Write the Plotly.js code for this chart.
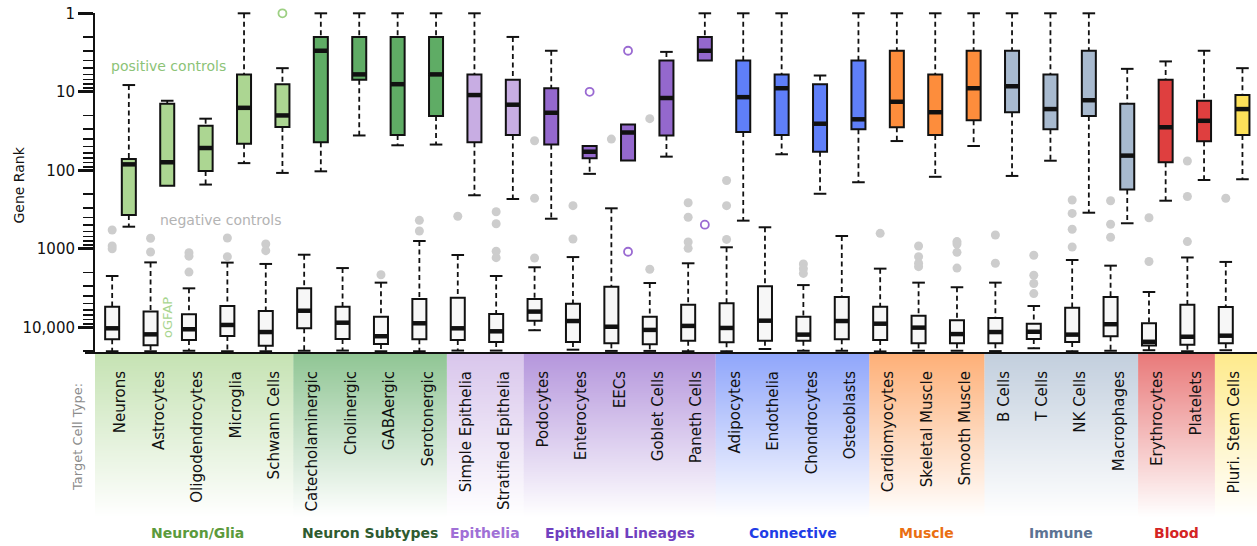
<!DOCTYPE html>
<html>
<head>
<meta charset="utf-8">
<script src="https://cdn.plot.ly/plotly-3.0.1.min.js"></script>
<style>
  html, body { margin: 0; padding: 0; background: #ffffff; }
  #chart { width: 1257px; height: 546px; }
</style>
</head>
<body>
<div id="chart"></div>
<script>
// ---- Target cell types and their groups ----
const cellTypes = [
  'Neurons', 'Astrocytes', 'Oligodendrocytes', 'Microglia', 'Schwann Cells',
  'Catecholaminergic', 'Cholinergic', 'GABAergic', 'Serotonergic',
  'Simple Epithelia', 'Stratified Epithelia',
  'Podocytes', 'Enterocytes', 'EECs', 'Goblet Cells', 'Paneth Cells',
  'Adipocytes', 'Endothelia', 'Chondrocytes', 'Osteoblasts',
  'Cardiomyocytes', 'Skeletal Muscle', 'Smooth Muscle',
  'B Cells', 'T Cells', 'NK Cells', 'Macrophages',
  'Erythrocytes', 'Platelets',
  'Pluri. Stem Cells'
];
const groupNames = ['Neuron/Glia', 'Neuron Subtypes', 'Epithelia', 'Epithelial Lineages',
                    'Connective', 'Muscle', 'Immune', 'Blood', ''];
const groupSizes = [5, 4, 2, 5, 4, 3, 4, 2, 1];
const groupBoxColors  = ['#acd692', '#5fac65', '#c8ade3', '#9468cd', '#5f7ff9',
                         '#fd8d3c', '#a8bacf', '#df3f3f', '#fde15a'];
const groupTextColors = ['#5b9a3c', '#2e5b30', '#a070d6', '#7040bf', '#1f3de6',
                         '#ea6f12', '#5c7393', '#d42424', '#c9a800'];
const groupOutlierColors = ['#9dd083', '#2e5b30', '#a070d6', '#9a6ad2', '#1f3de6',
                            '#ea6f12', '#5c7393', '#d42424', '#c9a800'];

// ---- Positive controls (gene rank) ----
const posWhiskerTop = [8.2, 13, 22, 1, 5, 1, 1, 1, 1, 1, 2, 3, 49, 26, 3.1, 1,
                       1, 1, 6.2, 1, 1, 1, 1, 1, 1, 1, 5.1, 4.1, 3, 5];
const posQ1  = [72, 14.2, 27, 6, 8, 2, 2, 2, 2, 6, 7, 9, 49, 26, 4, 2,
                4, 6, 8, 4, 3, 6, 3, 3, 6, 3, 14.2, 7, 13, 11];
const posMed = [84, 79, 52, 16, 20, 3, 6, 8, 6, 11, 14.6, 18.5, 58, 33, 12, 3,
                11.7, 9, 25.5, 22.4, 13.4, 18.2, 9, 8.5, 16.6, 12.8, 65, 28.3, 23.4, 16.6];
const posQ3  = [371, 157, 102, 46, 28, 44, 7, 35.5, 20.3, 44, 35.5, 47, 70, 75, 36, 4,
                32.5, 35.5, 58, 30, 28.3, 35.5, 23, 18.2, 30, 20.3, 175, 79, 42.7, 35.5];
const posWhiskerBottom = [523, 157, 152, 81, 108, 103, 36, 48, 47, 208, 232, 414, 111, 75, 67, 4,
                          438, 62.5, 199, 142, 42.4, 121, 49, 118, 75.5, 347, 473, 244, 133, 130];
const posOutliers = [[], [], [], [], [1], [], [], [], [], [], [], [], [10], [3, 1090], [], [493],
                     [], [], [], [], [], [], [], [], [], [], [], [], [], []];

// ---- Negative controls (gene rank) ----
const negWhiskerTop = [2220, 1490, 3190, 1500, 1560, 1190, 1760, 2700, 796, 1200, 2220, 1720,
                       1275, 305, 2730, 1530, 957, 532, 2900, 687, 1790, 2700, 3090, 2700,
                       5360, 1390, 1640, 3550, 1290, 1470];
const negQ1  = [5470, 6310, 6830, 5360, 6200, 3190, 5470, 7330, 4360, 4200, 6760, 4360,
                5000, 3040, 7330, 5150, 4940, 3000, 7330, 4110, 5470, 7110, 8130, 7590,
                9000, 5640, 4110, 8890, 5150, 5520];
const negMed = [10300, 12300, 10600, 9340, 11500, 6150, 8740, 13000, 8890, 10300, 11250, 6310,
                8320, 9840, 10800, 9600, 10200, 8240, 12400, 8320, 9000, 10100, 12200, 11500,
                11400, 12400, 9140, 15300, 13200, 12800];
const negQ3  = [14200, 16950, 14500, 12900, 17150, 10300, 14100, 16300, 14200, 14500, 15400, 8240,
                15400, 16000, 16500, 14800, 15500, 14800, 14800, 14200, 14500, 16000, 16000, 16000,
                14100, 15400, 13000, 17000, 16700, 16000];
const negWhiskerBottom = [20200, 20200, 19900, 20200, 20200, 19900, 19800, 20200, 20200, 19800,
                          19800, 10900, 19300, 20000, 20000, 20200, 20200, 18900, 19900, 19900,
                          20300, 19900, 19900, 20100, 18500, 20200, 19900, 19600, 20200, 19600];
const negOutliers = [
  [576, 920, 1000], [733, 1100], [1120, 1240, 1980], [728, 1260], [869, 1057],
  [], [], [2140], [434, 593],
  [385], [337, 479, 1076, 1297],
  [42, 227, 1310], [282, 750], [40], [22, 1820], [259, 397, 818, 986],
  [135, 282, 759], [], [1560, 1790, 2060], [],
  [635], [922, 1260, 1530, 1690], [809, 870, 1110, 1760],
  [667, 1530], [1210, 2170, 2770, 3720], [239, 354, 563, 950], [244, 487, 712],
  [402, 1450], [76, 216, 810],
  [227]
];

// ---- Axis tick labels ----
const yTickVals = [1, 10, 100, 1000, 10000];
const yTickText = ['1', '10', '100', '1000', '10,000'];

// ---- Drawing ----
const FONT = 'DejaVu Sans, Verdana, sans-serif';
const INK = '#111111';
const POS_OFF = 0.217, NEG_OFF = -0.217, BOX_W = 0.365;
const xRange = [-0.664, 29.596];
const yRange = [Math.log10(21260), -0.004];
const PLOT_H = 340;   // plot height in px (546 - 13 - 193)

const idx = cellTypes.map((_, i) => i);
const groupOf = [];
const groupStart = [];
groupSizes.forEach((n, g) => {
  groupStart.push(groupOf.length);
  for (let k = 0; k < n; k++) groupOf.push(g);
});

function boxTrace(ids, off, q1, med, q3, fill) {
  return {
    type: 'box',
    x: ids.map(i => i + off),
    q1: ids.map(i => q1[i]),
    median: ids.map(i => med[i]),
    q3: ids.map(i => q3[i]),
    lowerfence: ids.map(i => q1[i]),
    upperfence: ids.map(i => q3[i]),
    width: BOX_W,
    fillcolor: fill,
    line: { color: INK, width: 2 },
    whiskerwidth: 0,
    boxpoints: false,
    hoverinfo: 'skip'
  };
}

function medianTrace(off, med) {
  const x = [], y = [];
  idx.forEach(i => {
    x.push(i + off - BOX_W / 2, i + off + BOX_W / 2, null);
    y.push(med[i], med[i], null);
  });
  return { type: 'scatter', mode: 'lines', x, y, line: { color: INK, width: 4.5 },
           hoverinfo: 'skip' };
}

function whiskerTraces(off, top, q1, q3, bottom) {
  const lx = [], ly = [], cx = [], cy = [];
  idx.forEach(i => {
    const x = i + off;
    if (top[i] < q1[i]) {
      lx.push(x, x, null); ly.push(top[i], q1[i], null);
      cx.push(x); cy.push(top[i]);
    }
    if (bottom[i] > q3[i]) {
      lx.push(x, x, null); ly.push(q3[i], bottom[i], null);
      cx.push(x); cy.push(bottom[i]);
    }
  });
  return [
    { type: 'scatter', mode: 'lines', x: lx, y: ly,
      line: { color: INK, width: 1.8, dash: '5px,3.5px' }, hoverinfo: 'skip' },
    { type: 'scatter', mode: 'markers', x: cx, y: cy, cliponaxis: false,
      marker: { symbol: 'line-ew-open', size: 9, color: INK, line: { color: INK, width: 2 } },
      hoverinfo: 'skip' }
  ];
}

const traces = [];

// whiskers under everything else
traces.push(...whiskerTraces(NEG_OFF, negWhiskerTop, negQ1, negQ3, negWhiskerBottom));
traces.push(...whiskerTraces(POS_OFF, posWhiskerTop, posQ1, posQ3, posWhiskerBottom));

// negative-control boxes
traces.push(boxTrace(idx, NEG_OFF, negQ1, negMed, negQ3, '#f7f7f7'));

// positive-control boxes, one trace per group colour
groupSizes.forEach((n, g) => {
  const ids = idx.filter(i => groupOf[i] === g);
  traces.push(boxTrace(ids, POS_OFF, posQ1, posMed, posQ3, groupBoxColors[g]));
});

traces.push(medianTrace(NEG_OFF, negMed));
traces.push(medianTrace(POS_OFF, posMed));

// negative-control outliers
(function () {
  const x = [], y = [];
  idx.forEach(i => negOutliers[i].forEach(v => { x.push(i + NEG_OFF); y.push(v); }));
  traces.push({ type: 'scatter', mode: 'markers', x, y, cliponaxis: false,
    marker: { symbol: 'circle', size: 9, color: '#cdcdcd' }, hoverinfo: 'skip' });
})();

// positive-control outliers, open circles in the group colour
groupSizes.forEach((n, g) => {
  const x = [], y = [];
  idx.filter(i => groupOf[i] === g).forEach(i =>
    posOutliers[i].forEach(v => { x.push(i + POS_OFF); y.push(v); }));
  if (!x.length) return;
  traces.push({ type: 'scatter', mode: 'markers', x, y, cliponaxis: false,
    marker: { symbol: 'circle-open', size: 8, color: groupOutlierColors[g],
              line: { width: 1.8, color: groupOutlierColors[g] } },
    hoverinfo: 'skip' });
});

// ---- group bands under the axis, fading to white (1-px rows) ----
const shapes = [];
const BAND_ROWS = 164, TOP_ALPHA = 0.7;
groupSizes.forEach((n, g) => {
  const first = groupStart[g], last = first + n - 1;
  const x0 = g === 0 ? xRange[0] : first - 0.5;
  const x1 = g === groupSizes.length - 1 ? xRange[1] : last + 0.5;
  for (let k = 0; k < BAND_ROWS; k++) {
    shapes.push({
      type: 'rect', layer: 'below', xref: 'x', yref: 'paper',
      x0, x1, y0: -(k + 1) / PLOT_H, y1: -k / PLOT_H,
      fillcolor: groupBoxColors[g],
      opacity: TOP_ALPHA * (1 - (k + 0.5) / BAND_ROWS),
      line: { width: 0 }
    });
  }
});

// horizontal axis line, reaching a little past the rank axis
shapes.push({ type: 'line', layer: 'above', xref: 'paper', yref: 'paper',
  x0: -0.0086, x1: 1, y0: 0, y1: 0, line: { color: INK, width: 2 } });

// ---- text ----
function note(text, x, y, size, color, angle) {
  return { text, xref: 'paper', yref: 'paper', x, y, xanchor: 'center', yanchor: 'middle',
           textangle: angle || 0, showarrow: false,
           font: { family: FONT, size, color } };
}
const annotations = [
  note('Gene Rank', -0.0658, 0.494, 14, '#111', -90),
  note('positive controls', 0.0632, 0.844, 14, '#8cc377'),
  note('negative controls', 0.1083, 0.391, 14, '#b3b3b3'),
  note('oGFAP', 0.0628, 0.106, 13, '#a8d58f', -90),
  note('Target Cell Type:', -0.0151, -0.2456, 13, '#8c8c8c', -90)
];
groupSizes.forEach((n, g) => {
  if (!groupNames[g]) return;
  annotations.push({
    text: '<b>' + groupNames[g] + '</b>', xref: 'x', yref: 'paper',
    x: groupStart[g] + (n - 1) / 2, y: -0.529, xanchor: 'center', yanchor: 'middle',
    showarrow: false,
    font: { family: FONT, size: 14, color: groupTextColors[g] }
  });
});

// minor ticks between the decades
const minorVals = [];
for (let d = 1; d <= 10000; d *= 10)
  for (let m = 2; m <= 9; m++) if (m * d < 21260) minorVals.push(m * d);

const layout = {
  width: 1257, height: 546,
  margin: { l: 95, r: 0, t: 13, b: 193 },
  paper_bgcolor: '#ffffff', plot_bgcolor: '#ffffff',
  showlegend: false,
  font: { family: FONT, color: '#111' },
  xaxis: {
    type: 'linear', range: xRange, fixedrange: true,
    tickmode: 'array', tickvals: idx, ticktext: cellTypes,
    tickangle: -90, tickfont: { family: FONT, size: 15, color: '#111' },
    ticks: 'outside', ticklen: 11, tickcolor: 'rgba(0,0,0,0)',
    showgrid: false, zeroline: false, showline: false
  },
  yaxis: {
    type: 'log', range: yRange, fixedrange: true,
    tickmode: 'array', tickvals: yTickVals, ticktext: yTickText,
    tickfont: { family: FONT, size: 15, color: '#111' },
    ticks: 'outside', ticklen: 15, tickwidth: 3, tickcolor: INK,
    minor: { tickmode: 'array', tickvals: minorVals, ticks: 'outside',
             ticklen: 10, tickwidth: 1.6, tickcolor: INK, showgrid: false },
    showgrid: false, zeroline: false,
    showline: true, linecolor: INK, linewidth: 2
  },
  shapes, annotations
};

Plotly.newPlot('chart', traces, layout, { staticPlot: true, displayModeBar: false });
</script>
</body>
</html>
